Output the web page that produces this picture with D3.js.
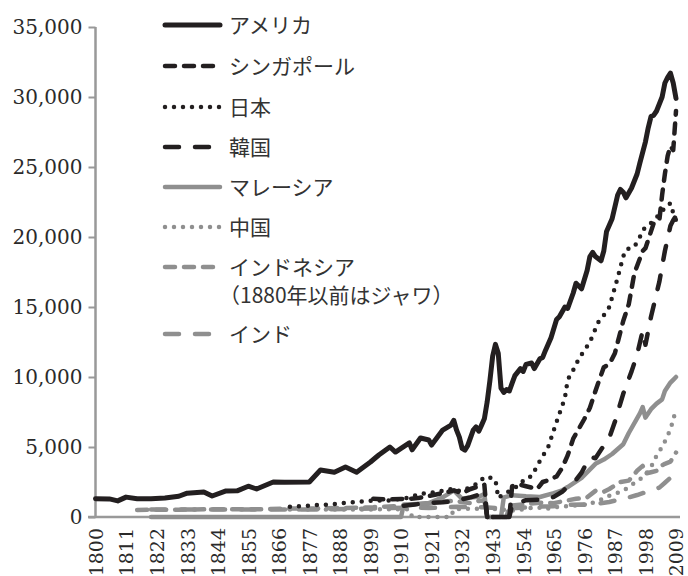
<!DOCTYPE html>
<html>
<head>
<meta charset="utf-8">
<script src="https://cdn.jsdelivr.net/npm/d3@7"></script>
<style>
  body { margin: 0; background: #fff; }
  .tick-label { font-family: "DejaVu Serif", "Liberation Serif", serif; font-size: 20px; fill: #2a2a2a; }
  .x-label { font-size: 19px; }
  .legend-label { font-family: "Noto Sans CJK JP", sans-serif; font-size: 21px; fill: #333; }
</style>
</head>
<body>
<div id="chart"></div>
<script>
// data: each series keeps its own years and values (0 = missing in the source)
var usaYears = [1800,1805,1808,1811,1815,1820,1825,1830,1833,1839,1842,1847,1851,1855,1858,1864,1868,1877,1881,1886,1890,1894,1899,1902,1906,1908,1910,1913,1914,1917,1920,1921,1925,1928,1929,1930,1931,1932,1933,1934,1936,1937,1938,1939,1940,1941,1942,1943,1944,1945,1946,1947,1948,1949,1950,1951,1953,1954,1955,1957,1958,1960,1961,1962,1964,1966,1967,1969,1970,1972,1973,1974,1975,1977,1978,1979,1980,1982,1983,1984,1986,1988,1989,1990,1991,1993,1995,1996,1998,1999,2000,2001,2002,2004,2005,2006,2007,2008,2009];
var usaValues = [1300,1290,1150,1420,1300,1300,1350,1480,1700,1790,1500,1860,1870,2200,2000,2500,2480,2500,3360,3200,3570,3200,3930,4430,5000,4640,4900,5290,4800,5640,5500,5140,6210,6570,6900,6200,5700,4900,4780,5100,6200,6430,6130,6560,7010,8200,9740,11500,12330,11700,9200,8900,9100,9000,9560,10100,10600,10400,10900,11000,10600,11300,11400,11900,12800,14100,14300,15000,14900,16000,16700,16500,16300,17600,18600,18900,18600,18300,19000,20400,21300,23000,23400,23200,22800,23500,24500,25300,26800,27800,28600,28700,29000,30000,31000,31400,31700,31000,29900];

var singaporeYears = [1900,1905,1910,1913,1916,1920,1925,1929,1932,1935,1938,1940,1941,1949,1950,1953,1955,1957,1959,1961,1964,1966,1968,1970,1972,1974,1976,1978,1980,1983,1985,1987,1990,1992,1994,1997,1998,2001,2003,2004,2005,2006,2007,2008,2009];
var singaporeValues = [1300,1250,1280,1300,1350,1500,1700,1900,1700,2000,2200,2300,0,0,2200,2300,2200,2100,2000,2500,2700,2900,3500,4400,5600,6300,7000,7800,9000,10700,10900,11700,14000,15200,17400,19000,19200,21000,21200,23000,24500,25800,26500,26200,29000];

var japanYears = [1870,1875,1880,1885,1890,1895,1900,1905,1910,1913,1917,1920,1925,1929,1931,1935,1938,1940,1942,1944,1945,1946,1948,1950,1952,1955,1957,1960,1963,1966,1969,1970,1972,1974,1976,1978,1981,1983,1985,1986,1987,1988,1990,1991,1994,1996,1997,2000,2002,2006,2007,2008,2009];
var japanValues = [740,780,860,900,1010,1100,1180,1160,1300,1390,1670,1700,1880,2030,1850,2120,2450,2870,2820,2660,1350,1500,1730,2000,2200,2800,2900,4000,5000,6800,8500,9800,10500,11300,11900,12500,13900,14400,15000,15700,16400,17100,18600,19100,19300,20000,20500,21000,21400,22300,22400,21700,21200];

var koreaYears = [1911,1915,1920,1925,1930,1935,1938,1940,1941,1949,1950,1953,1955,1960,1963,1965,1968,1970,1972,1975,1978,1980,1982,1985,1987,1990,1993,1995,1997,1998,2000,2003,2005,2007,2008,2009];
var koreaValues = [800,900,1000,1050,1170,1400,1600,1550,0,0,850,1070,1200,1230,1320,1440,1800,2170,2400,3160,4300,4200,4800,5670,6800,8800,10400,11600,13300,12300,14300,16800,19000,20800,21200,21500];

var malaysiaYears = [1820,1910,1911,1913,1920,1925,1929,1932,1935,1938,1940,1941,1946,1947,1950,1955,1960,1965,1968,1970,1975,1980,1983,1986,1990,1992,1996,1997,1998,2000,2002,2004,2005,2007,2008,2009];
var malaysiaValues = [0,0,900,900,1000,1400,1900,1300,1400,1450,1650,0,0,1400,1560,1480,1430,1700,1900,2140,2800,3800,4100,4500,5200,6000,7400,7850,7100,7700,8100,8400,9000,9600,9800,10000];

var chinaYears = [1870,1880,1890,1900,1913,1914,1928,1929,1933,1938,1945,1950,1955,1958,1960,1962,1965,1970,1975,1978,1980,1985,1990,1993,1995,1998,2000,2001,2002,2004,2005,2006,2007,2008,2009];
var chinaValues = [530,540,540,545,552,0,0,562,580,600,570,450,580,690,660,550,700,780,870,980,1060,1520,1870,2300,2550,3000,3600,3900,4400,5000,5400,5800,6300,6900,7800];

var indonesiaYears = [1815,1820,1830,1840,1850,1860,1870,1880,1890,1900,1910,1913,1920,1925,1929,1935,1938,1940,1941,1948,1949,1950,1955,1960,1965,1970,1973,1977,1980,1983,1985,1989,1992,1995,1997,1998,2000,2002,2003,2005,2007,2008,2009];
var indonesiaValues = [500,520,520,560,560,560,600,600,650,700,800,900,950,1100,1150,1000,1150,1200,0,0,800,820,930,1020,990,1190,1300,1400,1870,1800,2000,2500,2600,3300,3650,3100,3200,3300,3600,3800,3950,4300,4600];

var indiaYears = [1820,1850,1870,1884,1900,1913,1920,1930,1940,1946,1950,1955,1960,1965,1970,1975,1978,1980,1985,1990,1992,1995,1997,2000,2003,2005,2007,2008,2009];
var indiaValues = [530,530,530,550,600,670,640,730,690,620,620,680,750,770,870,900,850,940,1070,1310,1400,1570,1700,1900,2100,2450,2800,2900,2900];

var seriesNames = ["アメリカ", "シンガポール", "日本", "韓国", "マレーシア", "中国", "インドネシア", "インド"];
var legendNote = "（1880年以前はジャワ）";
var xTickYears = [1800,1811,1822,1833,1844,1855,1866,1877,1888,1899,1910,1921,1932,1943,1954,1965,1976,1987,1998,2009];
var yTickValues = [0,5000,10000,15000,20000,25000,30000,35000];

var black = "#231f20", grey = "#8f8f8f";
var width = 688, height = 576;

// build series list from the arrays
var series = [
  {name: seriesNames[0], years: usaYears, values: usaValues, color: black, dash: null, w: 5},
  {name: seriesNames[1], years: singaporeYears, values: singaporeValues, color: black, dash: "10,9", w: 4.5},
  {name: seriesNames[2], years: japanYears, values: japanValues, color: black, dash: "0,9", w: 4.5},
  {name: seriesNames[3], years: koreaYears, values: koreaValues, color: black, dash: "14,16", w: 4.5},
  {name: seriesNames[4], years: malaysiaYears, values: malaysiaValues, color: grey, dash: null, w: 4.5},
  {name: seriesNames[5], years: chinaYears, values: chinaValues, color: grey, dash: "0,9", w: 4.5},
  {name: seriesNames[6], years: indonesiaYears, values: indonesiaValues, color: grey, dash: "10,9", w: 4.5},
  {name: seriesNames[7], years: indiaYears, values: indiaValues, color: grey, dash: "14,16", w: 4.5}
];

var svg = d3.select("#chart").append("svg")
    .attr("width", width)
    .attr("height", height);

var x = d3.scaleLinear().domain([1800, 2009]).range([95.5, 676]);
var y = d3.scaleLinear().domain([0, 35000]).range([517, 27]);

// y axis
var yAxis = d3.axisLeft(y)
    .tickValues(yTickValues)
    .tickSize(7)
    .tickPadding(6)
    .tickFormat(d3.format(","));
var gy = svg.append("g")
    .attr("transform", "translate(" + x(1800) + ",0)")
    .call(yAxis);
gy.select(".domain").remove();
gy.selectAll(".tick line").attr("stroke", "#999").attr("stroke-width", 2);
gy.selectAll(".tick text").attr("class", "tick-label").attr("font-family", null).attr("font-size", null);
svg.append("line")
    .attr("x1", x(1800)).attr("x2", x(1800))
    .attr("y1", y(35000)).attr("y2", y(0))
    .attr("stroke", "#999").attr("stroke-width", 2.5);

// x axis
var xAxis = d3.axisBottom(x)
    .tickValues(xTickYears)
    .tickSize(0)
    .tickFormat(d3.format("d"));
var gx = svg.append("g")
    .attr("transform", "translate(0," + y(0) + ")")
    .call(xAxis);
gx.select(".domain").remove();
gx.selectAll(".tick text")
    .attr("class", "tick-label x-label")
    .attr("font-family", null).attr("font-size", null)
    .attr("text-anchor", "end")
    .attr("transform", "rotate(-90)")
    .attr("x", -11)
    .attr("y", 0)
    .attr("dy", "0.36em");
svg.append("line")
    .attr("x1", 88).attr("x2", 680)
    .attr("y1", y(0)).attr("y2", y(0))
    .attr("stroke", "#999").attr("stroke-width", 2.5);

// lines, grey ones first so black sits on top
var line = d3.line()
    .x(function(d) { return x(d[0]); })
    .y(function(d) { return y(d[1]); });

series.slice().reverse().forEach(function(s) {
  var pts = s.years.map(function(yr, i) { return [yr, s.values[i]]; });
  svg.append("path")
    .datum(pts)
    .attr("d", line)
    .attr("fill", "none")
    .attr("stroke", s.color)
    .attr("stroke-width", s.w)
    .attr("stroke-linecap", "round")
    .attr("stroke-linejoin", "round")
    .attr("stroke-dasharray", s.dash);
});

// legend
var legendRows = [25, 66, 107, 147, 187, 227, 267, 334];
var legend = svg.append("g");
series.forEach(function(s, i) {
  var ly = legendRows[i];
  legend.append("line")
    .attr("x1", 165).attr("x2", 220)
    .attr("y1", ly).attr("y2", ly)
    .attr("stroke", s.color)
    .attr("stroke-width", s.w)
    .attr("stroke-linecap", "round")
    .attr("stroke-dasharray", s.dash);
  legend.append("text")
    .attr("class", "legend-label")
    .attr("x", 229)
    .attr("y", ly)
    .attr("dy", "0.36em")
    .text(s.name);
});
legend.append("text")
  .attr("class", "legend-label")
  .attr("x", 219)
  .attr("y", 295)
  .attr("dy", "0.36em")
  .text(legendNote);
</script>
</body>
</html>
